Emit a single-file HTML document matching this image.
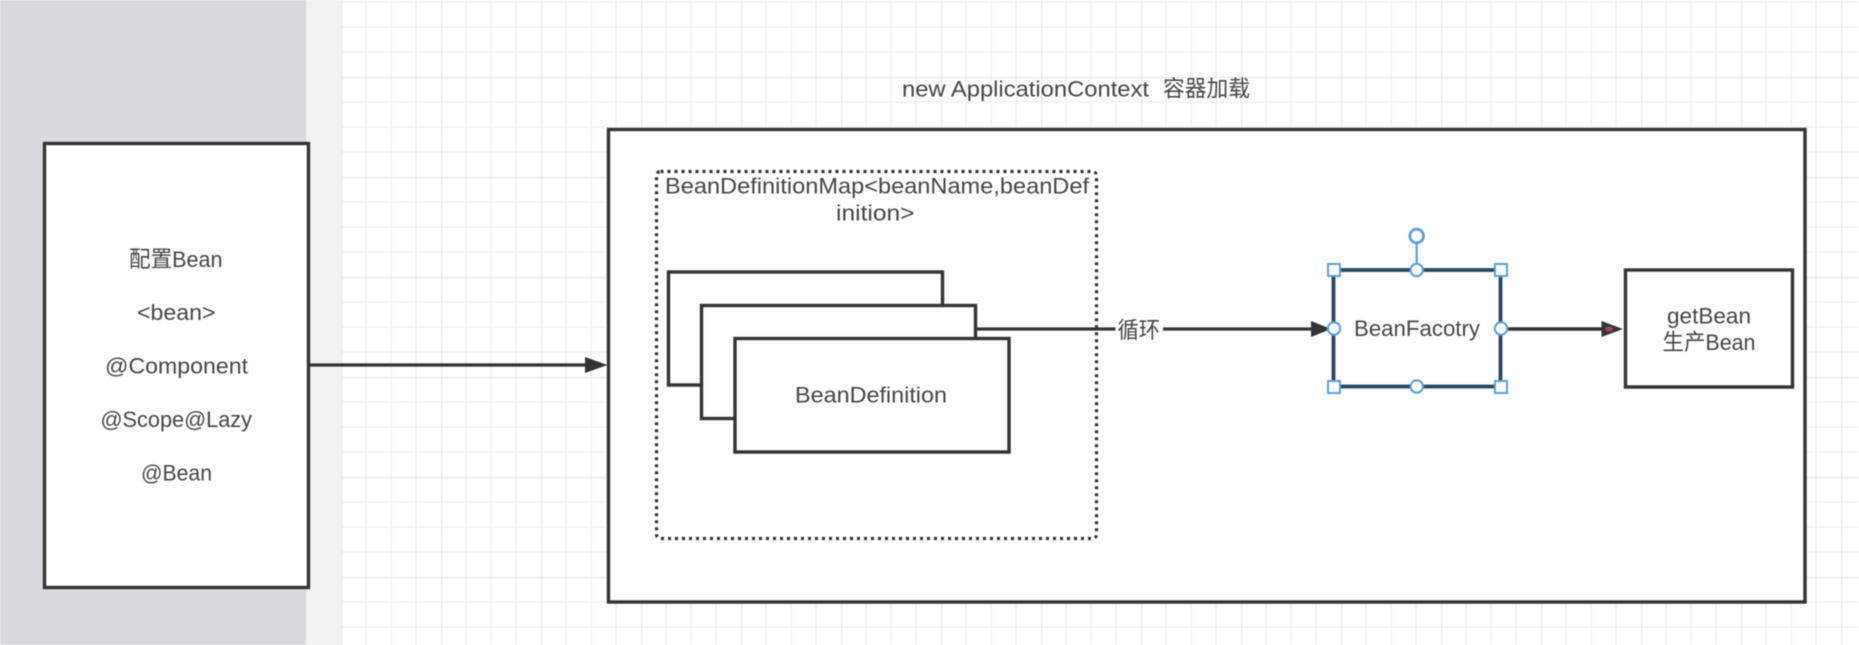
<!DOCTYPE html>
<html lang="zh">
<head>
<meta charset="utf-8">
<title>Diagram</title>
<style>
html,body{margin:0;padding:0;width:1859px;height:645px;overflow:hidden;background:#fff}
svg{display:block;filter:blur(.5px)}
text{font-family:"Liberation Sans","Noto Sans CJK SC",sans-serif;font-size:22.5px;fill:#454545}
</style>
</head>
<body>
<svg width="1859" height="645" viewBox="0 0 1859 645" xmlns="http://www.w3.org/2000/svg">
<defs>
<pattern id="grid" patternUnits="userSpaceOnUse" x="341" y="77" width="100" height="100">
<rect width="100" height="100" fill="#fff"/>
<path d="M25 0V100M50 0V100M75 0V100M0 25H100M0 50H100M0 75H100" stroke="#f1f1f1" stroke-width="1.6" fill="none"/>
<path d="M0 0V100M0 0H100" stroke="#e8e8e8" stroke-width="2.4" fill="none"/>
</pattern>
</defs>
<rect x="0" y="0" width="1859" height="645" fill="url(#grid)"/>
<rect x="0" y="0" width="306" height="645" fill="#d9dadf"/>
<rect x="306" y="0" width="35" height="645" fill="#f2f2f2"/>

<!-- left box -->
<rect x="44.5" y="143.5" width="264" height="444" fill="#fff" stroke="#333" stroke-width="3.4"/>
<text x="129" y="267" textLength="93.5" lengthAdjust="spacingAndGlyphs">配置Bean</text>
<text x="137" y="320" textLength="78.5" lengthAdjust="spacingAndGlyphs">&lt;bean&gt;</text>
<text x="105" y="373.5" textLength="143" lengthAdjust="spacingAndGlyphs">@Component</text>
<text x="100.5" y="427" textLength="151.5" lengthAdjust="spacingAndGlyphs">@Scope@Lazy</text>
<text x="141" y="480.5" textLength="71" lengthAdjust="spacingAndGlyphs">@Bean</text>

<!-- title -->
<text x="902" y="96.5" textLength="247" lengthAdjust="spacingAndGlyphs">new ApplicationContext</text>
<text x="1163" y="96.5" textLength="87" lengthAdjust="spacingAndGlyphs">容器加载</text>

<!-- container -->
<rect x="608.5" y="129.5" width="1196.5" height="472.5" fill="#fff" stroke="#333" stroke-width="3.4"/>

<!-- dotted map -->
<rect x="656.5" y="171.5" width="440" height="367" rx="4" fill="#fff" stroke="#333" stroke-width="3.2" stroke-dasharray="3 4"/>
<text x="665" y="193.5" textLength="424" lengthAdjust="spacingAndGlyphs">BeanDefinitionMap&lt;beanName,beanDef</text>
<text x="836" y="220.5" textLength="78.5" lengthAdjust="spacingAndGlyphs">inition&gt;</text>

<!-- stacked rects -->
<rect x="668.5" y="272" width="274" height="113" fill="#fff" stroke="#333" stroke-width="3.4"/>
<rect x="701.5" y="305.5" width="274" height="113" fill="#fff" stroke="#333" stroke-width="3.4"/>
<rect x="735" y="338.5" width="274" height="113.5" fill="#fff" stroke="#333" stroke-width="3.4"/>
<text x="795" y="402.5" textLength="152" lengthAdjust="spacingAndGlyphs">BeanDefinition</text>

<!-- connectors -->
<path d="M308 365H590" stroke="#333" stroke-width="3.2" fill="none"/>
<path d="M585 357L607.5 365L585 373Z" fill="#333"/>

<path d="M976 329H1316" stroke="#333" stroke-width="3.2" fill="none"/>
<rect x="1115.5" y="316" width="47.5" height="28" fill="#fff"/>
<text x="1117.5" y="338" textLength="42.5" lengthAdjust="spacingAndGlyphs">循环</text>
<path d="M1311 321L1331 329L1311 337Z" fill="#333"/>

<!-- BeanFacotry -->
<rect x="1333.5" y="270" width="167" height="116.5" fill="#fff" stroke="#2c4560" stroke-width="3.8"/>
<text x="1354" y="336" textLength="126" lengthAdjust="spacingAndGlyphs">BeanFacotry</text>

<path d="M1500 329H1606" stroke="#333" stroke-width="3.4" fill="none"/>
<path d="M1601.5 321L1623 329L1601.5 337Z" fill="#333"/>
<ellipse cx="1609" cy="329" rx="4" ry="2.5" fill="#a0445f"/>

<!-- selection handles -->
<g fill="#fff" stroke="#5b9fe0" stroke-width="2">
<path d="M1416.7 243V264" stroke-width="2.2" fill="none"/>
<circle cx="1416.7" cy="236" r="6.8" stroke-width="2.8"/>
<circle cx="1416.7" cy="270" r="6.2"/>
<circle cx="1416.7" cy="386.5" r="6.2"/>
<circle cx="1334" cy="328.5" r="6.2"/>
<circle cx="1501" cy="328.5" r="6.2"/>
<rect x="1328" y="264" width="12" height="12"/>
<rect x="1495" y="264" width="12" height="12"/>
<rect x="1328" y="381" width="12" height="12"/>
<rect x="1495" y="381" width="12" height="12"/>
</g>

<!-- getBean -->
<rect x="1625.5" y="270" width="167" height="117" fill="#fff" stroke="#333" stroke-width="3.4"/>
<text x="1667" y="323.5" textLength="84" lengthAdjust="spacingAndGlyphs">getBean</text>
<text x="1662.5" y="350" textLength="93" lengthAdjust="spacingAndGlyphs">生产Bean</text>
</svg>
</body>
</html>
